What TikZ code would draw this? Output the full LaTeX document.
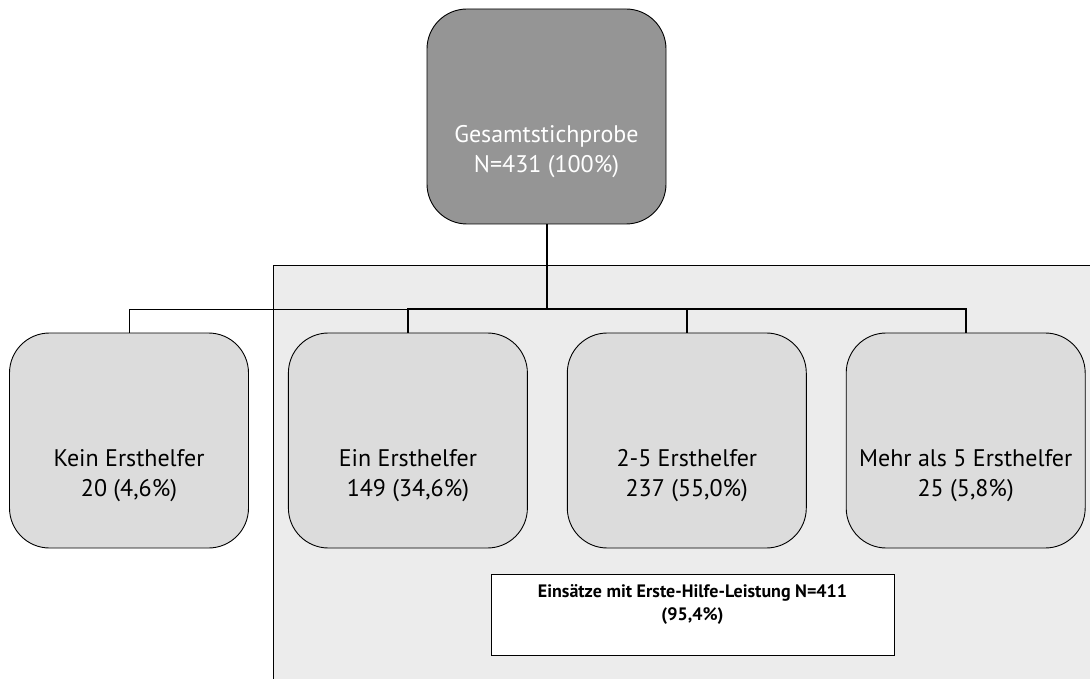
\documentclass[tikz,border=0pt]{standalone}
\usepackage{fontspec}
\setmainfont{PT Sans}
\usepackage{xcolor}
\usetikzlibrary{positioning}

\definecolor{dunkelgrau}{RGB}{149,149,149}
\definecolor{hellgrau}{RGB}{220,220,220}
\definecolor{hintergrund}{RGB}{236,236,236}

\begin{document}
\begin{tikzpicture}[x=1pt,y=-1pt,
    kasten/.style={draw, rounded corners=40pt, minimum width=239pt, minimum height=215pt, inner sep=0pt, line width=0.9pt},
    beschriftung/.style={align=center, inner sep=0pt, font=\fontsize{24}{30}\selectfont}]
        \useasboundingbox (0,0) rectangle (1090,679);

        % Hintergrund
        \draw[fill=hintergrund, line width=0.9pt] (273,265) rectangle (1100,700);

        % Kaesten
        \node[kasten, fill=dunkelgrau] (gesamt) at (546.5,116.5) {};
        \node[kasten, fill=hellgrau] (kein) at (129,440.5) {};
        \node[kasten, fill=hellgrau, right=39pt of kein] (ein) {};
        \node[kasten, fill=hellgrau, right=39pt of ein] (zwei) {};
        \node[kasten, fill=hellgrau, right=39pt of zwei] (mehr) {};

        % Texte
        \node[beschriftung, white, yshift=-35pt] (gesamt-t) at (gesamt.center) {Gesamtstichprobe\\N=431 (100\%)};
        \node[beschriftung, yshift=-35pt] (kein-t) at (kein.center) {Kein Ersthelfer\\20 (4,6\%)};
        \node[beschriftung, yshift=-35pt] (ein-t) at (ein.center) {Ein Ersthelfer\\149 (34,6\%)};
        \node[beschriftung, yshift=-35pt] (zwei-t) at (zwei.center) {2-5 Ersthelfer\\237 (55,0\%)};
        \node[beschriftung, yshift=-35pt] (mehr-t) at (mehr.center) {Mehr als 5 Ersthelfer\\25 (5,8\%)};

        % Linien
        \coordinate (knick) at (546.5,309);
        \draw[line width=1pt] (kein.north) -- (kein.north |- knick) -- (ein.north |- knick);
        \draw[line width=2pt] (gesamt.south) -- (knick);
        \draw[line width=2pt] (ein.north) -- (ein.north |- knick) -- (mehr.north |- knick) -- (mehr.north);
        \draw[line width=2pt] (zwei.north) -- (zwei.north |- knick);

        % Einsaetze
        \node[draw, fill=white, line width=0.9pt, minimum width=403pt, minimum height=81pt] (einsatz) at (692.5,614.5) {};
        \node[anchor=north, align=center, inner sep=0pt, yshift=-11pt, font=\bfseries\fontsize{18}{23}\selectfont] (einsatz-t) at (einsatz.north) {Einsätze mit Erste-Hilfe-Leistung N=411\\(95,4\%)};
    \end{tikzpicture}
\end{document}
